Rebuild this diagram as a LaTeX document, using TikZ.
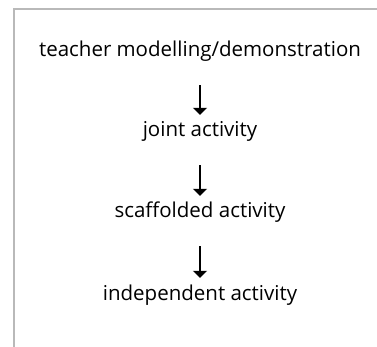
\documentclass[tikz,border=0pt]{standalone}
\usepackage{fontspec}
\setmainfont{Open Sans}
\usepackage{tikz}
\usetikzlibrary{arrows.meta,positioning}

\begin{document}
\begin{tikzpicture}[x=1pt,y=1pt,
    stage/.style={inner sep=0pt, anchor=base, text height=15pt, text depth=5pt, font=\fontsize{20.5}{24}\selectfont},
    flow/.style={line width=1.8pt, -{Triangle[width=14pt,length=7pt]}, shorten <=23pt, shorten >=7pt}]
    % Page frame
    \useasboundingbox (0,0) rectangle (377,-347);
    \draw[line width=2.5pt, gray!55] (14,-347) -- (14,-9) -- (377,-9);

    % Stages
    \node[stage] (model) at (200,-57) {teacher modelling/demonstration};
    \node[stage] (joint) at (200,-137) {joint activity};
    \node[stage] (scaf) at (200,-218) {scaffolded activity};
    \node[stage] (indep) at (200,-300) {independent activity};

    % Arrows
    \draw[flow] (model.south) -- (joint.north);
    \draw[flow] (joint.south) -- (scaf.north);
    \draw[flow] (scaf.south) -- (indep.north);
\end{tikzpicture}
\end{document}
